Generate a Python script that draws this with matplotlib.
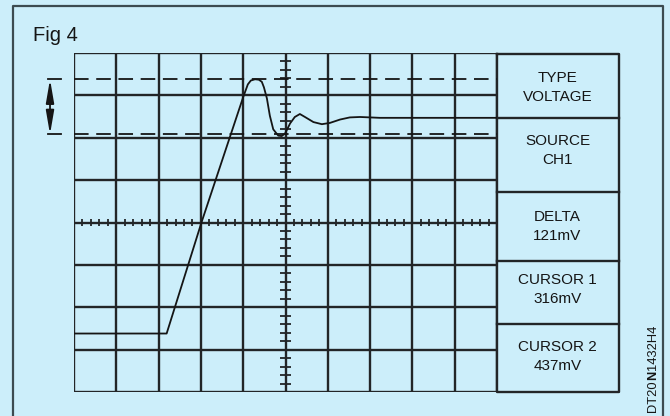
import matplotlib
matplotlib.use('Agg')
import matplotlib.pyplot as plt
from matplotlib.font_manager import FontProperties
import numpy as np

plt.rcParams['font.family'] = ['Liberation Sans', 'DejaVu Sans']
plt.rcParams['lines.scale_dashes'] = False

# waveform, in divisions (x: time, y: voltage)
wave_t = [0, 2.19, 3.01, 4.00, 4.11, 4.18, 4.28, 4.37, 4.44, 4.49, 4.56, 4.63,
          4.71, 4.78, 4.83, 4.91, 4.99, 5.11, 5.22, 5.34, 5.46, 5.66, 5.86,
          6.05, 6.29, 6.52, 6.76, 7.00, 7.23, 10.0]
wave_v = [1.38, 1.38, 3.99, 6.96, 7.26, 7.35, 7.38, 7.37, 7.32, 7.19, 6.93, 6.52,
          6.20, 6.11, 6.05, 6.04, 6.10, 6.34, 6.49, 6.56, 6.49, 6.37, 6.32,
          6.35, 6.43, 6.48, 6.49, 6.48, 6.47, 6.47]
# cursor levels in divisions
cursor_levels = [6.08, 7.38]

panel_titles = ['TYPE', 'SOURCE', 'DELTA', 'CURSOR 1', 'CURSOR 2']
panel_values = ['VOLTAGE', 'CH1', '121mV', '316mV', '437mV']

# figure code, middle part in bold
code_parts = [('DT20', 'normal'), ('N', 'bold'), ('1432H4', 'normal')]

n_xdiv = 10
n_ydiv = 8

bg = '#cceefa'
ink = '#151515'
gridc = '#222527'

fig = plt.figure(figsize=(6.7, 4.16), dpi=100)
fig.patch.set_facecolor(bg)

# layout axes in pixel units
lay = fig.add_axes([0, 0, 1, 1])
lay.set_xlim(0, 670)
lay.set_ylim(416, 0)
lay.axis('off')
lay.patch.set_alpha(0)

# outer frame (open at the bottom)
lay.plot([13, 13, 663, 663], [416, 6, 6, 416], color='#3c4b50', lw=1.6)
lay.text(33, 40.7, 'Fig 4', fontsize=14.5, color=ink, ha='left', va='baseline')

# graticule
ax = fig.add_axes([74 / 670, (416 - 392) / 416, 423 / 670, 339 / 416])
ax.set_xlim(0, n_xdiv)
ax.set_ylim(0, n_ydiv)
ax.axis('off')
ax.patch.set_alpha(0)

for i in range(n_xdiv + 1):
    ax.axvline(i, color=gridc, lw=1.7, zorder=1)
for j in range(n_ydiv + 1):
    ax.axhline(j, color=gridc, lw=1.7, zorder=1)

# minor ticks on centre axes
cx = n_xdiv / 2
cy = n_ydiv / 2
xt = np.arange(0, n_xdiv + 0.01, 0.2)
yt = np.arange(0, n_ydiv + 0.01, 0.2)
ax.vlines(xt, cy - 0.085, cy + 0.085, color=gridc, lw=1.3, zorder=1)
ax.hlines(yt, cx - 0.12, cx + 0.12, color=gridc, lw=1.3, zorder=1)

# cursors
for lev in cursor_levels:
    ax.plot([0, n_xdiv], [lev, lev], color=ink, lw=1.3,
            linestyle=(0, (10.5, 5.5)), zorder=2)
    ax.plot([-0.61, -0.315], [lev, lev], color=ink, lw=1.3,
            clip_on=False, zorder=2)

ax.annotate('', xy=(-0.567, max(cursor_levels)), xytext=(-0.567, min(cursor_levels)),
            arrowprops=dict(arrowstyle='<|-|>,head_length=1.4,head_width=0.24',
                            mutation_scale=10, lw=1.3, color=ink,
                            shrinkA=0, shrinkB=0),
            annotation_clip=False)

ax.plot(wave_t, wave_v, color=ink, lw=1.3, zorder=3, solid_joinstyle='round')

# readout panel
row_edges = [54, 118, 192, 261, 324, 392]
title_y = [77.7, 141, 216.7, 280, 346.7]
value_y = [96.7, 160, 235.7, 299, 365.7]
lay.plot([497, 619, 619, 497, 497], [54, 54, 392, 392, 54], color=gridc, lw=1.7)
for e in row_edges[1:-1]:
    lay.plot([497, 619], [e, e], color=gridc, lw=1.7)
for t, v, ty, vy in zip(panel_titles, panel_values, title_y, value_y):
    lay.text(557.5, ty, t, fontsize=11, color=ink, ha='center', va='center')
    lay.text(557.5, vy, v, fontsize=11, color=ink, ha='center', va='center')

# vertical code, pieces stacked upward (baseline at x=656)
renderer = fig.canvas.get_renderer()


def advance(s, fp):
    # glyph advance of s: measure with a trailing letter and take it off again
    w1 = renderer.get_text_width_height_descent(s + 'H', fp, ismath=False)[0]
    w2 = renderer.get_text_width_height_descent('H', fp, ismath=False)[0]
    return w1 - w2


ypos = 411.5
for s, w in code_parts:
    fp = FontProperties(family='Liberation Sans', size=9.3, weight=w)
    lay.text(656, ypos, s, fontproperties=fp, color=ink,
             rotation=90, rotation_mode='anchor', ha='left', va='baseline')
    ypos -= advance(s, fp) + (0.8 if w == 'bold' else 0.2)

plt.savefig('out.png', dpi=100, facecolor=bg)
